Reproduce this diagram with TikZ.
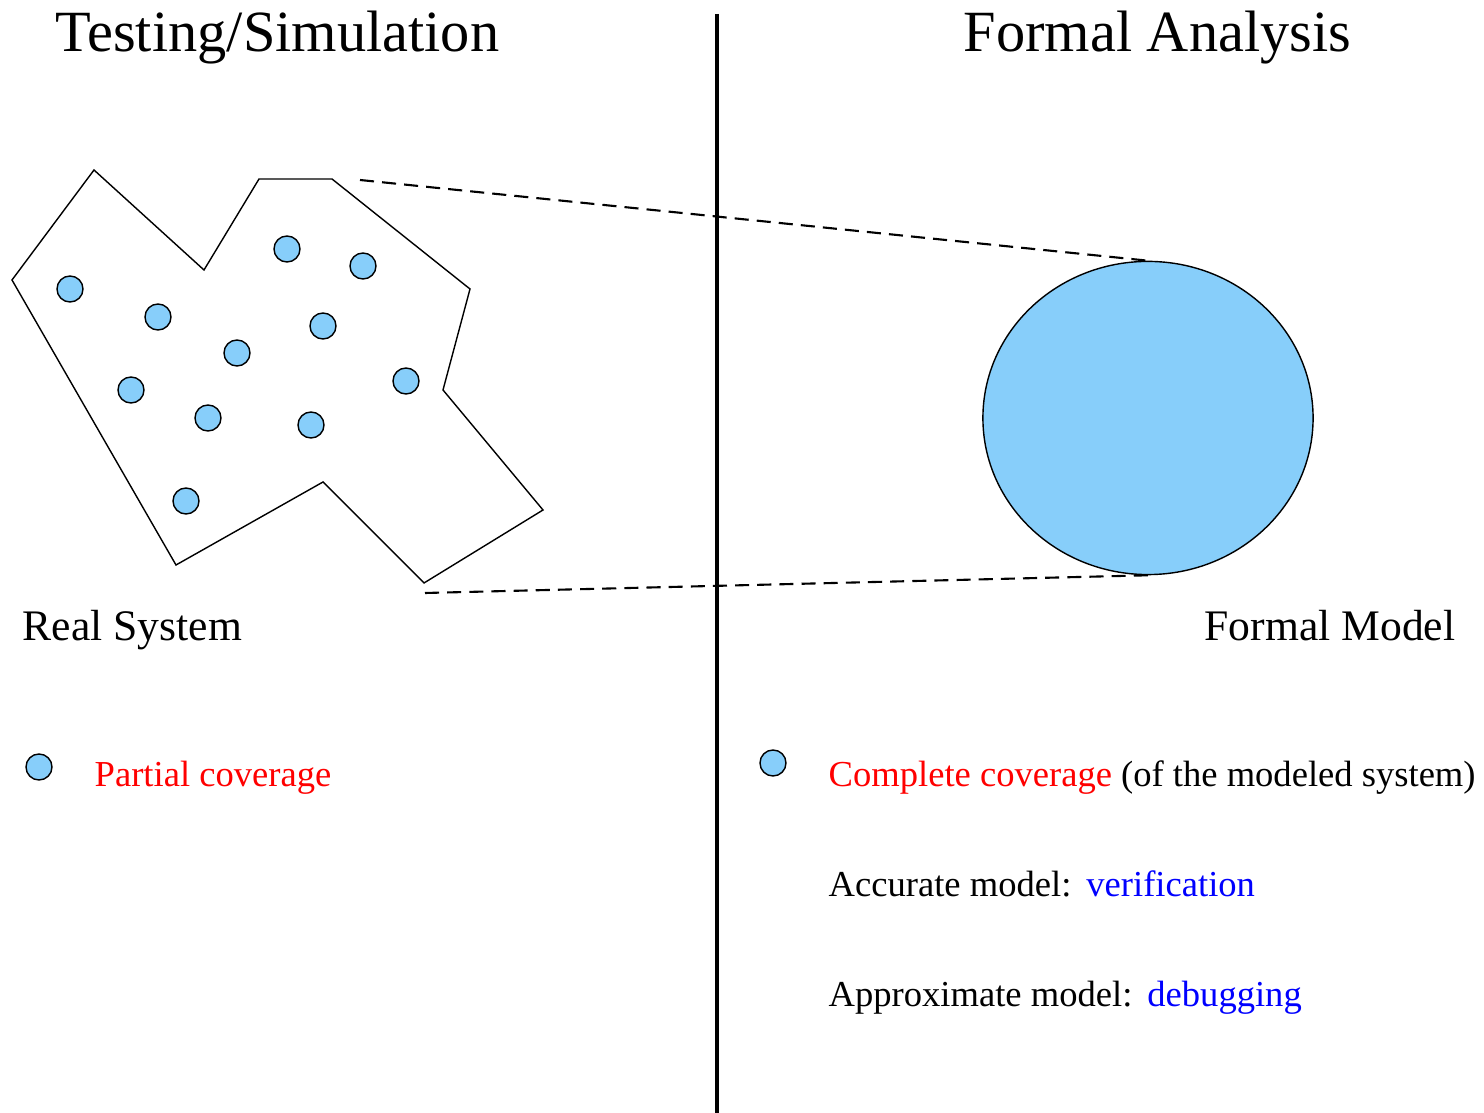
\documentclass[tikz,border=0pt]{standalone}
\usepackage{fontspec}
\setmainfont{Liberation Serif}
\usetikzlibrary{shapes.geometric}
\definecolor{dotblue}{RGB}{135,206,250}
\tikzstyle{title} = [anchor=base west, inner sep=0pt, font=\fontsize{16.6}{20}\selectfont]
\tikzstyle{label} = [anchor=base west, inner sep=0pt, font=\fontsize{12.4}{15}\selectfont]
\tikzstyle{legend} = [anchor=base west, inner sep=0pt, font=\fontsize{10.4}{13}\selectfont]
\tikzstyle{sample} = [circle, draw=black, fill=dotblue, line width=0.4pt, minimum size=0.26cm, inner sep=0pt]
\tikzstyle{zoomline} = [line width=0.6pt, dash pattern=on 4pt off 2.3pt]

\begin{document}
\begin{tikzpicture}[x=0.01cm, y=-0.01cm]
    \useasboundingbox (0,0) rectangle (1484,1113);

    % headings
    \node [title] (testhead) at (55,52) {Testing/Simulation};
    \node [title] (formhead) at (963,52) {Formal Analysis};
    \coordinate (divtop) at (717,14);
    \coordinate (divbot) at (717,1113);
    \draw [line width=0.9pt] (divtop) -- (divbot);

    % real system
    \draw [line width=0.4pt] (94,170) -- (204,270) -- (259,179) -- (332,179) coordinate (ptop)
        -- (470,289) -- (443,390) -- (543,510) -- (424,583) coordinate (pbot)
        -- (323,482) -- (176,565) -- (12,280) -- cycle;
    \foreach \x/\y [count=\i] in {70/289, 158/317, 287/249, 363/266, 323/326, 237/353,
                                  131/390, 208/418, 311/425, 406/381, 186/501}
        \node [sample] (s\i) at (\x,\y) {};
    \node [label] (real) at (22,641) {Real System};

    % formal model
    \node [ellipse, draw=black, fill=dotblue, line width=0.4pt, minimum width=3.3cm, minimum height=3.13cm, inner sep=0pt] (model) at (1148,418) {};
    \node [label] (modlabel) at (1204,641) {Formal Model};
    \coordinate (ztop) at (360,180);
    \coordinate (zbot) at (425,593);
    \draw [zoomline] (ztop) -- (model.north);
    \draw [zoomline] (zbot) -- (model.south);

    % legends
    \node [sample] (ldot) at (39,767) {};
    \node [legend] (partial) at (94,787) {\textcolor{red}{Partial coverage}};
    \node [sample] (rdot) at (773,763) {};
    \node [legend] (complete) at (828,787) {\textcolor{red}{Complete coverage} (of the modeled system)};
    \node [legend] (accurate) at (828,897) {Accurate model:\hspace{0.15cm}\textcolor{blue}{verification}};
    \node [legend] (approx) at (828,1007) {Approximate model:\hspace{0.15cm}\textcolor{blue}{debugging}};
\end{tikzpicture}
\end{document}
